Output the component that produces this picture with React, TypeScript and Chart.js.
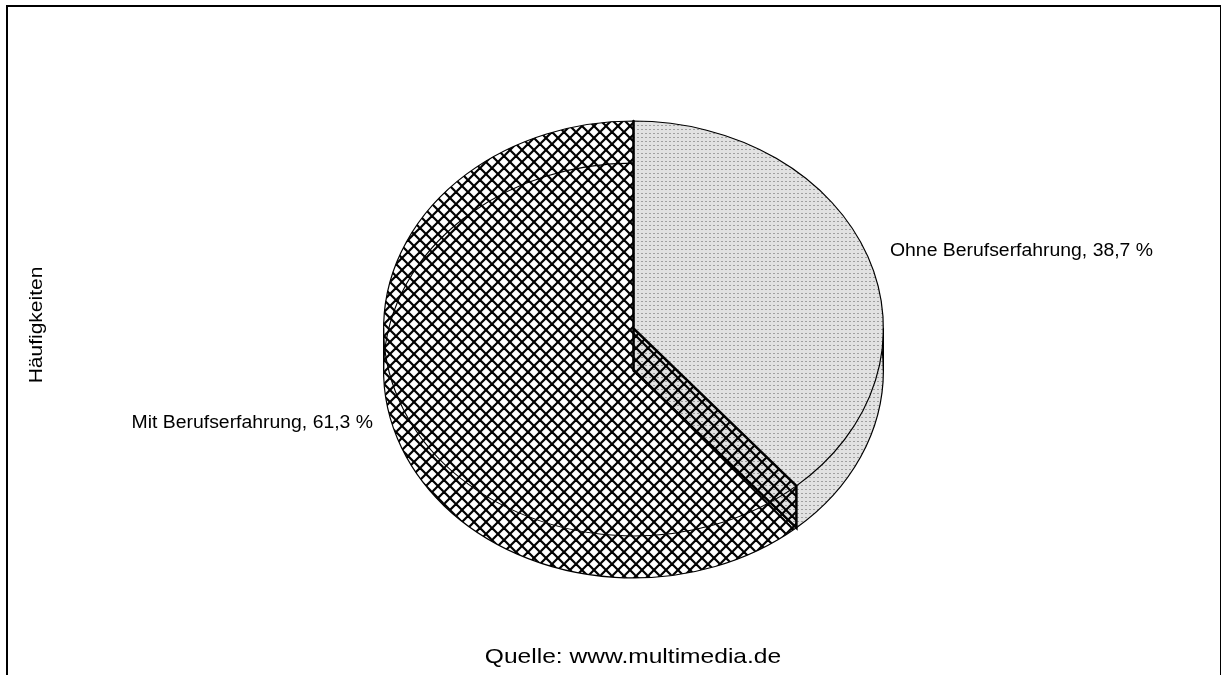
import React, { useEffect, useRef } from "react";
import { Chart, registerables } from "chart.js";

Chart.register(...registerables);

const categories = ["Ohne Berufserfahrung", "Mit Berufserfahrung"];
const shares = [38.7, 61.3];
const sliceLabels = ["Ohne Berufserfahrung, 38,7 %", "Mit Berufserfahrung, 61,3 %"];
const axisLabel = "Häufigkeiten";
const sourceNote = "Quelle: www.multimedia.de";

const TILT = 207.5 / 250;
const DEPTH = 42;
const FONT = '"Liberation Sans", Arial, sans-serif';

function dotTile(): HTMLCanvasElement {
  const c = document.createElement("canvas");
  c.width = 4;
  c.height = 4;
  const g = c.getContext("2d")!;
  g.fillStyle = "#e2e2e2";
  g.fillRect(0, 0, 4, 4);
  g.fillStyle = "#a0a0a0";
  g.fillRect(1, 1, 2, 1);
  return c;
}

function hatchTile(): HTMLCanvasElement {
  const c = document.createElement("canvas");
  c.width = 12;
  c.height = 12;
  const g = c.getContext("2d")!;
  g.strokeStyle = "#000";
  g.lineWidth = 2.2;
  for (const o of [-12, 0, 12]) {
    g.beginPath();
    g.moveTo(o, 0);
    g.lineTo(o + 12, 12);
    g.stroke();
    g.beginPath();
    g.moveTo(o + 12, 0);
    g.lineTo(o, 12);
    g.stroke();
  }
  return c;
}

export default function App() {
  const ref = useRef<HTMLCanvasElement>(null);
  useEffect(() => {
    const canvas = ref.current!;
    const ctx = canvas.getContext("2d")!;
    const dots = ctx.createPattern(dotTile(), "repeat")!;
    const hatch = ctx.createPattern(hatchTile(), "repeat")!;
    const fills = [dots, hatch];

    const tiltAround = (c: CanvasRenderingContext2D, cy: number, dy: number) => {
      c.translate(0, cy + dy);
      c.scale(1, TILT);
      c.translate(0, -cy);
    };
    const setPatternMatrix = (m: DOMMatrix) => {
      dots.setTransform(m);
      hatch.setTransform(m);
    };
    const addWedge = (c: CanvasRenderingContext2D, a: any, cy: number, dy: number) => {
      c.save();
      tiltAround(c, cy, dy);
      c.moveTo(a.x, a.y);
      c.arc(a.x, a.y, a.outerRadius, a.startAngle, a.endAngle);
      c.closePath();
      c.restore();
    };
    const stretchedText = (
      c: CanvasRenderingContext2D,
      text: string,
      x: number,
      y: number,
      sx: number,
      sy: number,
      angle: number,
      align: CanvasTextAlign,
    ) => {
      c.save();
      c.translate(x, y);
      c.scale(angle ? sy : sx, angle ? sx : sy);
      c.rotate(angle);
      c.textAlign = align;
      c.fillText(text, 0, 0);
      c.restore();
    };

    const pie3d = {
      id: "pie3d",
      beforeDraw(chart: any) {
        const c = chart.ctx;
        c.save();
        c.fillStyle = "#000";
        c.fillRect(6, 5, 2, 670);
        c.fillRect(6, 5, 1215, 2);
        c.fillRect(1220, 5, 1, 670);
        c.restore();
      },
      beforeDatasetsDraw(chart: any) {
        const c = chart.ctx;
        const arcs = chart.getDatasetMeta(0).data;
        const cy = arcs[0].y;
        setPatternMatrix(new DOMMatrix());
        // side walls: each slice swept from the lower face to the upper face, as one path
        arcs.forEach((a: any, i: number) => {
          c.save();
          // keep the wall off the upper face, which the chart paints itself
          c.beginPath();
          c.rect(0, 0, chart.width, chart.height);
          addWedge(c, a, cy, 0);
          c.clip("evenodd");
          c.beginPath();
          for (let dy = DEPTH; dy >= 0; dy--) addWedge(c, a, cy, dy);
          c.fillStyle = fills[i];
          c.fill();
          c.restore();
        });
        // lower face outlines
        c.save();
        c.strokeStyle = "#000";
        c.lineWidth = 1.2;
        arcs.forEach((a: any) => {
          c.beginPath();
          addWedge(c, a, cy, DEPTH);
          c.stroke();
        });
        c.restore();
        setPatternMatrix(
          new DOMMatrix().translate(0, cy).scale(1, TILT).translate(0, -cy).inverse(),
        );
      },
      beforeDatasetDraw(chart: any) {
        const c = chart.ctx;
        const cy = chart.getDatasetMeta(0).data[0].y;
        c.save();
        tiltAround(c, cy, 0);
      },
      afterDatasetDraw(chart: any) {
        chart.ctx.restore();
      },
      afterDatasetsDraw(chart: any) {
        const c = chart.ctx;
        const arcs = chart.getDatasetMeta(0).data;
        const cy = arcs[0].y;
        const r = arcs[0].outerRadius;
        const cx = arcs[0].x;
        c.save();
        c.strokeStyle = "#000";
        const ex = (ang: number) => cx + r * Math.cos(ang);
        const ey = (ang: number) => cy + r * TILT * Math.sin(ang);
        const cut = arcs[0].endAngle;
        const top = arcs[0].startAngle;
        c.lineWidth = 2.5;
        c.lineCap = "round";
        c.beginPath();
        c.moveTo(ex(top), ey(top));
        c.lineTo(cx, cy);
        c.lineTo(ex(cut), ey(cut));
        c.moveTo(cx, cy);
        c.lineTo(cx, cy + DEPTH);
        c.lineTo(ex(cut), ey(cut) + DEPTH);
        c.lineTo(ex(cut), ey(cut));
        c.stroke();
        c.lineWidth = 1.2;
        c.beginPath();
        c.moveTo(cx - r, cy);
        c.lineTo(cx - r, cy + DEPTH);
        c.moveTo(cx + r, cy);
        c.lineTo(cx + r, cy + DEPTH);
        c.stroke();

        c.fillStyle = "#000";
        c.textBaseline = "alphabetic";
        c.font = `17.5px ${FONT}`;
        stretchedText(c, sliceLabels[0], 890, 256, 1.108, 1, 0, "left");
        stretchedText(c, sliceLabels[1], 373, 428, 1.108, 1, 0, "right");
        stretchedText(c, axisLabel, 42, 325, 1.2, 1.1, -Math.PI / 2, "center");
        c.font = `21px ${FONT}`;
        stretchedText(c, sourceNote, 633, 663, 1.17, 1, 0, "center");
        c.restore();
      },
    };

    const chart = new Chart(canvas, {
      type: "pie",
      data: {
        labels: categories,
        datasets: [
          {
            data: shares,
            backgroundColor: fills,
            borderColor: "#000",
            borderWidth: 1.2,
            borderAlign: "center",
          },
        ],
      },
      options: {
        responsive: false,
        animation: false,
        events: [],
        layout: { padding: { left: 383, right: 337, top: 78, bottom: 96 } },
        plugins: {
          legend: { display: false },
          title: { display: false },
          tooltip: { enabled: false },
        },
      },
      plugins: [pie3d],
    } as any);
    return () => chart.destroy();
  }, []);
  return (
    <canvas
      ref={ref}
      width={1221}
      height={675}
      style={{ position: "fixed", left: 0, top: 0, width: 1221, height: 675, background: "#fff" }}
    />
  );
}
